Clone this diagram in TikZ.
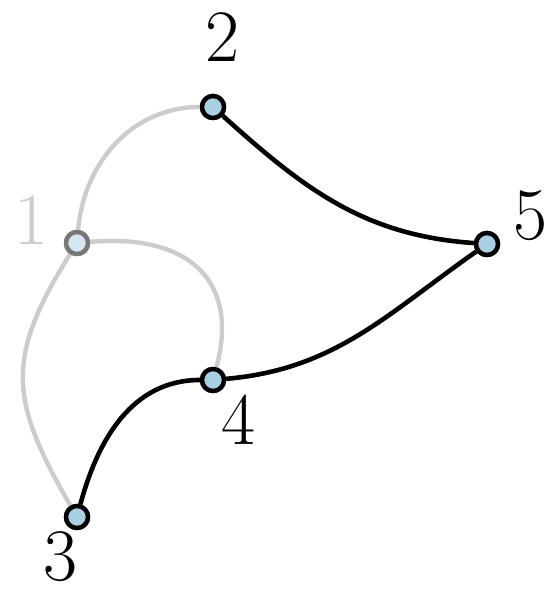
\documentclass[tikz,border=0pt]{standalone}
\usepackage{xcolor}
\usetikzlibrary{arrows.meta,positioning}
\definecolor{faded}{HTML}{CCCCCC}
\definecolor{rim}{HTML}{777777}
\definecolor{vert}{HTML}{A8CFE2}
\definecolor{pale}{HTML}{D4E6F0}
\tikzset{
  vtx/.style={circle,draw=black,fill=vert,line width=4.4pt,minimum size=22pt,inner sep=0pt},
  ghost/.style={vtx,draw=rim,fill=pale},
  lbl/.style={font=\fontsize{74}{74}\selectfont,inner sep=0pt},
  live/.style={line width=4.6pt,black},
  dead/.style={line width=4.4pt,faded},
}
\begin{document}
\begin{tikzpicture}[x=1pt,y=1pt]
\useasboundingbox (0,0) rectangle (547,596);
% vertices
\node[ghost] (v1) at (77,353) {};
\node[vtx] (v2) at (213,489) {};
\node[vtx] (v5) at (487,352) {};
\node[vtx] (v4) at (213,216) {};
\node[vtx] (v3) at (77,79) {};
% labels
\node[lbl,text=faded] (t1) at (31,376) {1};
\node[lbl] (t2) at (222,559) {2};
\node[lbl] (t5) at (530,380) {5};
\node[lbl] (t4) at (238,176) {4};
\node[lbl] (t3) at (60,39) {3};
% faded edges from 1
\draw[dead] (v1) to[out=85,in=180] (v2);
\draw[dead] (v1) to[out=5,in=75,looseness=1.35] (v4);
\draw[dead] (v1) to[out=238,in=120,looseness=1.25] (v3);
% remaining edges
\draw[live] (v2) to[out=-42,in=176] (v5);
\draw[live] (v5) to[out=215,in=5] (v4);
\draw[live] (v4) to[out=180,in=75] (v3);
% vertices on top of the edges
\node[ghost] at (v1) {};
\node[vtx] at (v2) {};
\node[vtx] at (v5) {};
\node[vtx] at (v4) {};
\node[vtx] at (v3) {};
\end{tikzpicture}
\end{document}
